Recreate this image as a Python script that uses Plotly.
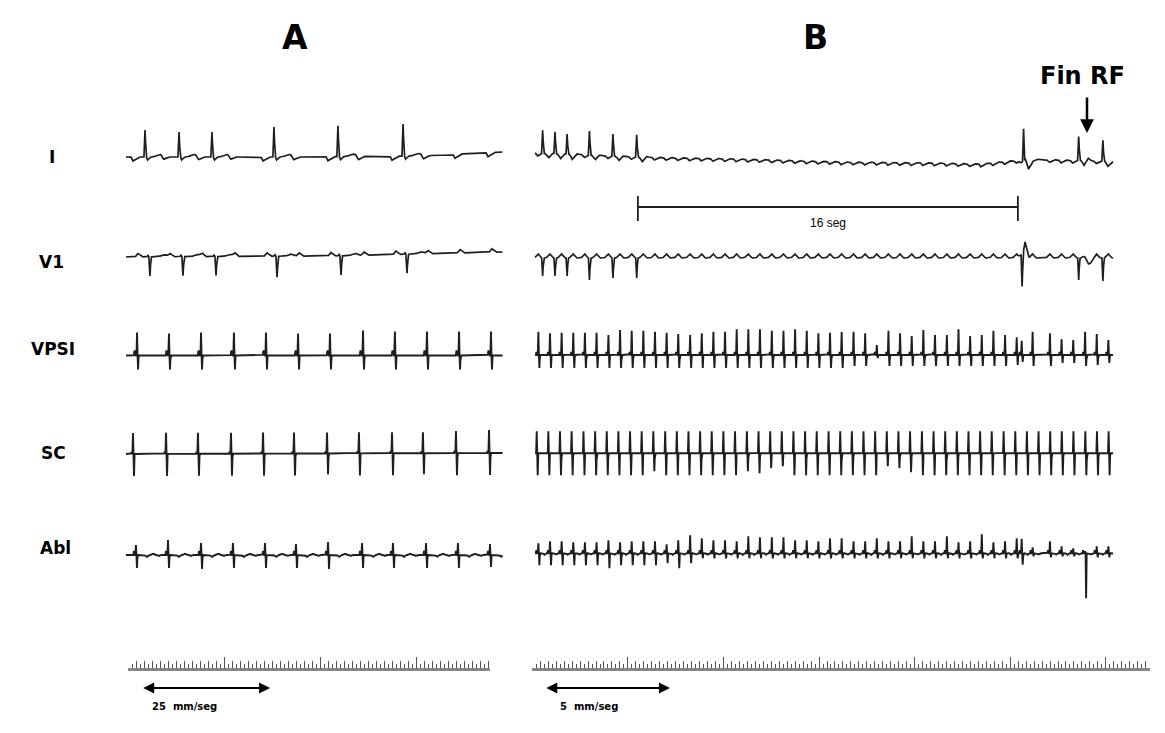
import numpy as np
import plotly.graph_objects as go

W, H = 1165, 733

# ---------------- Panel A (25 mm/seg), time in seconds ----------------
A_span = [0.0, 2.69]
A_I_flutter = [0.050, 0.264, 0.514, 0.743, 0.979, 1.193, 1.443, 1.657, 1.900, 2.121, 2.350, 2.586]
A_I_qrs = [0.136, 0.379, 0.614, 1.057, 1.514, 1.979]
A_I_amp = [27, 25, 25, 30, 31, 32]
A_I_drift_t = [0.0, 1.24, 2.10, 2.69]
A_I_drift = [0, 0, 1, 5]
A_V1_qrs = [0.171, 0.407, 0.643, 1.079, 1.536, 2.007]
A_V1_amp = [19, 19, 19, 21, 19, 19]
A_V1_drift_t = [0.0, 1.5, 2.69]
A_V1_drift = [0, 1, 5]
A_atrial = [0.079, 0.307, 0.536, 0.771, 1.000, 1.229, 1.457, 1.693, 1.921, 2.150, 2.379, 2.607]
A_vpsi_up = [23, 22, 23, 23, 23, 22, 22, 25, 24, 24, 24, 24]
A_vpsi_dn = [14, 14, 14, 14, 14, 14, 14, 14, 14, 14, 14, 14]
A_sc = [0.050, 0.286, 0.514, 0.750, 0.979, 1.200, 1.436, 1.664, 1.900, 2.121, 2.357, 2.593]
A_sc_up = [21, 21, 21, 21, 21, 21, 21, 21, 21, 21, 22, 23]
A_sc_dn = [22, 22, 22, 22, 22, 22, 21, 22, 22, 21, 22, 22]
A_abl = [0.071, 0.300, 0.536, 0.764, 0.993, 1.214, 1.443, 1.686, 1.907, 2.143, 2.371, 2.600]
A_abl_up = [10, 15, 12, 12, 12, 11, 13, 12, 12, 12, 12, 11]
A_abl_dn = [13, 13, 14, 13, 13, 13, 14, 13, 13, 13, 13, 12]

# ---------------- Panel B (slow sweep), time in seconds ----------------
B_span = [-0.04, 24.30]
B_qrs = [0.28, 0.80, 1.31, 2.25, 3.24, 4.24, 20.53, 22.85, 23.87]
B_I_amp = [23, 22, 20, 24, 22, 22, 32, 24, 21]
B_I_s = [2, 2, 2, 2, 2, 2, 10, 2, 2]
B_I_t = [1, 1, 1, 1, 1, 1, 0, 3, 0]
B_I_drift_t = [-0.04, 4.38, 8.59, 13.01, 17.01, 18.69, 19.96, 20.80, 22.06, 23.75, 24.30]
B_I_drift = [4, 0, -2, -5, -6, -7, -4, -2, -3, -4, -5]
B_V1_r = [0, 0, 0, 0, 0, 0, 16, 0, 0]
B_V1_s = [18, 18, 18, 22, 20, 20, 32, 22, 23]
B_V1_t = [0, 0, 0, 0, 0, 0, 0, -6, 0]

B_atrial = [0.10, 0.59, 1.08, 1.57, 2.06, 2.55, 3.05, 3.54, 4.03, 4.52,
            5.01, 5.50, 5.99, 6.49, 6.98, 7.47, 7.96, 8.45, 8.94, 9.43,
            9.93, 10.42, 10.91, 11.40, 11.89, 12.38, 12.87, 13.37, 13.86, 14.35,
            14.84, 15.33, 15.82, 16.31, 16.80, 17.30, 17.79, 18.28, 18.77, 19.26,
            19.75, 20.24, 20.45, 20.91, 21.64, 22.13, 22.62, 23.12, 23.61, 24.10]
B_vpsi_up = [23.3, 21.7, 22.3, 22.3, 22.3, 22.3, 20, 25, 24.3, 24.3,
             23.3, 22.3, 21, 20, 21.7, 23.3, 23.3, 25.7, 25.7, 25.7,
             24.3, 24.3, 25.7, 24.3, 21.7, 22.3, 23, 23.3, 21.7, 10,
             24.3, 21.7, 19, 25, 20, 20, 25.7, 19, 20, 24.3,
             20, 17.7, 14.3, 23.3, 21.7, 15.7, 15, 23.3, 21, 15]
B_vpsi_dn = [13, 13, 13, 13, 13, 13, 13, 13, 13, 13,
             13, 13, 13, 13, 13, 13, 13, 13, 13, 13,
             13, 13, 13, 13, 13, 13, 13, 11, 11, 3,
             11, 11, 11, 11, 11, 11, 11, 11, 11, 11,
             11, 10, 7, 11, 11, 8, 8, 11, 10, 8]
B_sc = [0.03, 0.52, 1.01, 1.50, 2.00, 2.49, 2.98, 3.47, 3.96, 4.45,
        4.94, 5.44, 5.93, 6.42, 6.91, 7.40, 7.89, 8.38, 8.88, 9.37,
        9.86, 10.35, 10.84, 11.33, 11.82, 12.32, 12.81, 13.30, 13.79, 14.28,
        14.77, 15.26, 15.75, 16.25, 16.74, 17.23, 17.72, 18.21, 18.70, 19.19,
        19.69, 20.18, 20.67, 21.16, 21.65, 22.14, 22.63, 23.13, 23.62, 24.11]
B_sc_up = [22, 22, 22, 22, 22, 22, 22, 22, 22, 22,
           22, 22, 22, 22, 22, 22, 22, 22, 22, 22,
           22, 22, 22, 22, 22, 22, 22, 22, 22, 22,
           22, 22, 22, 22, 22, 22, 22, 22, 22, 22,
           22, 22, 22, 22, 22, 22, 22, 22, 22, 22]
B_sc_dn = [22, 22, 22, 22, 22, 22, 22, 22, 22, 22,
           18, 22, 22, 22, 22, 22, 22, 22, 18, 20,
           15, 13, 22, 22, 22, 22, 22, 22, 22, 22,
           13, 15, 19, 22, 22, 22, 22, 22, 22, 22,
           22, 22, 22, 22, 22, 22, 22, 22, 22, 22]
B_abl_up = [10, 12, 12, 11, 11, 11, 13, 11, 12, 12,
            12, 9, 13, 18, 15, 13, 13, 12, 17, 16,
            16, 16, 13, 13, 12, 15, 15, 12, 12, 15,
            12, 12, 17, 12, 12, 17, 11, 12, 19, 11,
            12, 15, 15, 6, 12, 7, 5, 2, 7, 7]
B_abl_dn = [12, 12, 12, 12, 12, 12, 15, 12, 12, 12,
            12, 10, 15, 10, 5, 5, 5, 5, 5, 5,
            5, 5, 5, 5, 5, 5, 5, 5, 5, 5,
            5, 5, 5, 5, 5, 5, 5, 5, 5, 5,
            5, 5, 10, 3, 4, 3, 3, 45, 4, 4]

# annotations data
B_bar = [4.29, 20.29]          # "16 seg" bar (s)
B_fin_rf = 23.2                # end of RF application (s)
A_scale_arrow = [0.112, 1.029]
B_scale_arrow = [0.37, 5.64]
A_ruler_len = 45.25            # ruler units
B_ruler_len = 77.5
channel_labels = ["I", "V1", "VPSI", "SC", "Abl"]

# ---------------- layout geometry (style) ----------------
A_pps, A_px0 = 140.0, 126.0      # px per second, px of t=0
B_pps, B_px0 = 23.75, 536.0
A_dom = [0.0, 0.45]
B_dom = [0.45, 1.0]
A_range = [(A_dom[0] * W - A_px0) / A_pps, (A_dom[1] * W - A_px0) / A_pps]
B_range = [(B_dom[0] * W - B_px0) / B_pps, (B_dom[1] * W - B_px0) / B_pps]
A_centers = [157, 257, 355.5, 454, 555]
B_centers = [157, 258, 355, 453.3, 553.3]
label_pos = [(52, 157), (51, 262), (53, 349), (53, 453), (55, 548)]
INK = "#1e1e1e"
BOLD_FONT = "DejaVu Sans"


def tri(t, t0, a, wl, wr):
    y = np.zeros_like(t)
    m = (t >= t0 - wl) & (t <= t0)
    y[m] = a * (1 - (t0 - t[m]) / wl)
    m = (t > t0) & (t <= t0 + wr)
    y[m] = a * (1 - (t[m] - t0) / wr)
    return y


def bump(t, t0, a, w):
    y = np.zeros_like(t)
    m = np.abs(t - t0) < w
    y[m] = a * 0.5 * (1 + np.cos(np.pi * (t[m] - t0) / w))
    return y


def build(span, pps, center, tris, bumps=(), drift_t=None, drift_v=None):
    px = 1.0 / pps
    t = np.arange(span[0], span[1], 0.3 * px)
    extra = []
    for (t0, off, a, wl, wr) in tris:
        c = t0 + off * px
        extra += [c - wl * px, c, c + wr * px]
    extra = [e for e in extra if span[0] <= e <= span[1]]
    t = np.unique(np.concatenate([t, extra, [span[1]]]))
    y = np.zeros_like(t)
    if drift_t is not None:
        y += np.interp(t, drift_t, drift_v)
    for (t0, off, a, wl, wr) in tris:
        y += tri(t, t0 + off * px, a, wl * px, wr * px)
    for (t0, off, a, w) in bumps:
        y += bump(t, t0 + off * px, a, w * px)
    return t, y - center


traces = []


def add(t, y, xa, width=1.7):
    traces.append(go.Scatter(x=t, y=y, mode="lines", xaxis=xa, yaxis="y",
                             line=dict(color=INK, width=width), hoverinfo="skip",
                             showlegend=False))


# ----- Panel A -----
tr = [(f, 0, -4, 2, 6) for f in A_I_flutter]
bu = []
for q, a in zip(A_I_qrs, A_I_amp):
    tr += [(q, 0, a, 1.1, 1.1), (q, 2.6, -3, 1.4, 2.5)]
    bu += [(q, 15, 2.5, 8)]
add(*build(A_span, A_pps, A_centers[0], tr, bu, A_I_drift_t, A_I_drift), "x")

tr = [(f, 1, 3.5, 3, 4) for f in A_atrial]
bu = []
for q, a in zip(A_V1_qrs, A_V1_amp):
    tr += [(q, 0, -a, 1.1, 1.1), (q, -2, 1.5, 1, 1)]
    bu += [(q, 14, 2, 7)]
add(*build(A_span, A_pps, A_centers[1], tr, bu, A_V1_drift_t, A_V1_drift), "x")

tr = []
for t0, u, d in zip(A_atrial, A_vpsi_up, A_vpsi_dn):
    tr += [(t0, -2.5, 5, 0.8, 0.8), (t0, 0, u, 0.6, 0.5), (t0, 1.0, -d, 0.5, 0.6)]
add(*build(A_span, A_pps, A_centers[2], tr), "x", 1.9)

tr = []
for t0, u, d in zip(A_sc, A_sc_up, A_sc_dn):
    tr += [(t0, -1.5, 2, 0.6, 0.6), (t0, 0, u, 0.6, 0.5), (t0, 1.0, -d, 0.5, 0.6)]
add(*build(A_span, A_pps, A_centers[3], tr, (), [0, 2.69], [0, 1]), "x", 1.9)

tr = []
for t0, u, d in zip(A_abl, A_abl_up, A_abl_dn):
    tr += [(t0, -2, 4, 0.6, 0.6), (t0, 0, u, 0.6, 0.5), (t0, 1.0, -d, 0.5, 0.6),
           (t0, 11, -2, 2, 2), (t0, 17, 1.5, 2, 2), (t0, 23, -1, 1.5, 1.5)]
add(*build(A_span, A_pps, A_centers[4], tr), "x", 1.9)

# ----- Panel B -----
tr = [(f, -1, -3, 2, 5) for f in B_atrial]
bu = []
for q, a, s, tt in zip(B_qrs, B_I_amp, B_I_s, B_I_t):
    tr += [(q, 0, a, 1.1, 1.1), (q, 5, -s, 3, 4)]
    bu += [(q, 9, tt, 4)]
add(*build(B_span, B_pps, B_centers[0], tr, bu, B_I_drift_t, B_I_drift), "x2")

tr = [(f, 0, 4, 4, 3) for f in B_atrial]
bu = []
for q, r, s, tt in zip(B_qrs, B_V1_r, B_V1_s, B_V1_t):
    off = -1.5 if r > 0 else 0
    tr += [(q, off, -s, 1.0, 1.0)]
    if r > 0:
        tr += [(q, 1.5, r, 2.5, 4)]
    bu += [(q, 10, tt, 7)]
add(*build(B_span, B_pps, B_centers[1], tr, bu), "x2")

tr = []
for t0, u, d in zip(B_atrial, B_vpsi_up, B_vpsi_dn):
    tr += [(t0, -2, 3, 0.6, 0.6), (t0, 0, u, 0.6, 0.5), (t0, 1.0, -d, 0.5, 0.6)]
add(*build(B_span, B_pps, B_centers[2], tr), "x2", 1.9)

tr = []
for t0, u, d in zip(B_sc, B_sc_up, B_sc_dn):
    tr += [(t0, 0, u, 0.6, 0.5), (t0, 1.0, -d, 0.5, 0.6)]
add(*build(B_span, B_pps, B_centers[3], tr), "x2", 1.9)

tr = []
for t0, u, d in zip(B_atrial, B_abl_up, B_abl_dn):
    tr += [(t0, -2, 3, 0.6, 0.6), (t0, 0, u, 0.6, 0.5), (t0, 1.0, -d, 0.5, 0.6),
           (t0, 6, -1.5, 1.5, 1.5)]
add(*build(B_span, B_pps, B_centers[4], tr), "x2", 1.9)

# 16 seg bar
traces.append(go.Scatter(x=[B_bar[0], B_bar[1], None, B_bar[0], B_bar[0], None, B_bar[1], B_bar[1]],
                         y=[-207, -207, None, -196, -221, None, -196, -221],
                         mode="lines", xaxis="x2", yaxis="y",
                         line=dict(color=INK, width=1.8), hoverinfo="skip", showlegend=False))

# invisible anchors for ruler axes
for xa in ["x3", "x4", "x5", "x6"]:
    traces.append(go.Scatter(x=[0], y=[-720], mode="markers", xaxis=xa, yaxis="y",
                             marker=dict(opacity=0), hoverinfo="skip", showlegend=False))

fig = go.Figure(traces)

ruler_pos = (H - 668.5) / H
rcol = "#555555"


def ruler(domain, length):
    return dict(domain=domain, range=[0, length], anchor="free", position=ruler_pos,
                showgrid=False, zeroline=False, showticklabels=False,
                showline=True, linecolor="#888888", linewidth=2.5,
                ticks="inside", ticklen=7, tickwidth=1.2, tickcolor=rcol, dtick=1, tick0=0,
                minor=dict(dtick=0.5, tick0=0, ticks="inside", ticklen=3.5,
                           tickwidth=1.2, tickcolor=rcol),
                fixedrange=True)


def ruler_major(over, length):
    vals = [v for v in [0, 12, 24, 36, 48, 60, 72] if v < length] + [length]
    return dict(overlaying=over, range=[0, length], anchor="free", position=ruler_pos,
                showgrid=False, zeroline=False, showticklabels=False, showline=False,
                ticks="inside", ticklen=12, tickwidth=1.2, tickcolor=rcol,
                tickmode="array", tickvals=vals, fixedrange=True)


def txt_ann(text, x, y, xref, yref, size, family=BOLD_FONT):
    return dict(text=text, x=x, y=y, xref=xref, yref=yref, xanchor="center", yanchor="middle",
                showarrow=False, font=dict(size=size, color="black", family=family))


ann = []
for (t, xp) in [("A", 295), ("B", 815)]:
    ann.append(txt_ann("<b>%s</b>" % t, xp / W, 1 - 37 / H, "paper", "paper", 33))
for t, (xp, yp) in zip(channel_labels, label_pos):
    ann.append(txt_ann("<b>%s</b>" % t, xp / W, 1 - yp / H, "paper", "paper", 17))
ann.append(txt_ann("16 seg", (B_bar[0] + B_bar[1]) / 2, -223, "x2", "y", 12, "Liberation Sans"))
ann.append(txt_ann("<b>Fin RF</b>", B_fin_rf - 0.2, -76, "x2", "y", 24))
ann.append(dict(text="", x=B_fin_rf, y=-133, xref="x2", yref="y", ax=0, ay=-37,
                showarrow=True, arrowhead=2, arrowsize=1.1, arrowwidth=2.5, arrowcolor="black"))
for xa, arr, lab, lx in [("x", A_scale_arrow, "<b>25  mm/seg</b>", 0.421),
                         ("x2", B_scale_arrow, "<b>5  mm/seg</b>", 2.23)]:
    ann.append(dict(text="", x=arr[1], y=-688, ax=arr[0], ay=-688, xref=xa, yref="y",
                    axref=xa, ayref="y", showarrow=True, arrowhead=2, arrowside="end+start",
                    arrowsize=1.0, arrowwidth=2.2, arrowcolor="black"))
    ann.append(txt_ann(lab, lx, -706, xa, "y", 10))

fig.update_layout(
    width=W, height=H, autosize=False,
    margin=dict(l=0, r=0, t=0, b=0, pad=0),
    paper_bgcolor="white", plot_bgcolor="rgba(0,0,0,0)",
    showlegend=False,
    xaxis=dict(domain=A_dom, range=A_range, visible=False, fixedrange=True),
    xaxis2=dict(domain=B_dom, range=B_range, visible=False, fixedrange=True),
    xaxis3=ruler([128.3 / W, 490.0 / W], A_ruler_len),
    xaxis4=ruler_major("x3", A_ruler_len),
    xaxis5=ruler([532.3 / W, 1149.6 / W], B_ruler_len),
    xaxis6=ruler_major("x5", B_ruler_len),
    yaxis=dict(domain=[0, 1], range=[-H, 0], visible=False, fixedrange=True),
    annotations=ann,
)

fig.write_html("out.html", config={"displayModeBar": False},
               post_script="document.body.style.margin='0';document.body.style.overflow='hidden';")
